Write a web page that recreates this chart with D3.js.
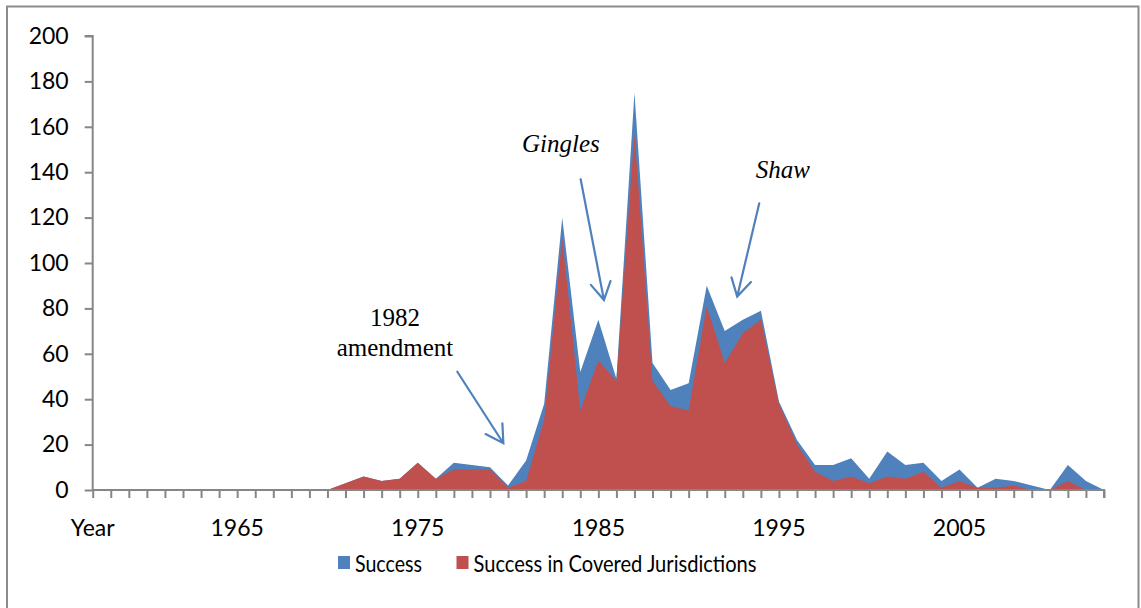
<!DOCTYPE html>
<html>
<head>
<meta charset="utf-8">
<script src="https://cdn.jsdelivr.net/npm/d3@7"></script>
<style>
  body { margin: 0; background: #fff; }
  svg { display: block; }
</style>
</head>
<body>
<svg width="1141" height="608"></svg>
<script>
(function() {
  // years on the category axis
  let years = [1957, 1958, 1959, 1960, 1961, 1962, 1963, 1964, 1965, 1966,
    1967, 1968, 1969, 1970, 1971, 1972, 1973, 1974, 1975, 1976,
    1977, 1978, 1979, 1980, 1981, 1982, 1983, 1984, 1985, 1986,
    1987, 1988, 1989, 1990, 1991, 1992, 1993, 1994, 1995, 1996,
    1997, 1998, 1999, 2000, 2001, 2002, 2003, 2004, 2005, 2006,
    2007, 2008, 2009, 2010, 2011, 2012, 2013];

  let success = [0, 0, 0, 0, 0, 0, 0, 0, 0, 0,
    0, 0, 0, 0, 3, 6, 4, 5, 12, 5,
    12, 11, 10, 2, 13, 38, 120, 52, 75, 49,
    175, 56, 44, 47, 90, 70, 75, 79, 39, 22,
    11, 11, 14, 5, 17, 11, 12, 4, 9, 1,
    5, 4, 2, 0, 11, 4, 0];

  let covered = [0, 0, 0, 0, 0, 0, 0, 0, 0, 0,
    0, 0, 0, 0, 3, 6, 4, 5, 12, 5,
    9, 9, 9, 1, 4, 31, 111, 35, 57, 48,
    157, 48, 37, 35, 81, 56, 69, 75, 38, 20,
    8, 4, 6, 3, 6, 5, 8, 1, 4, 1,
    1, 2, 0, 0, 4, 0, 0];

  let yTicks = [0, 20, 40, 60, 80, 100, 120, 140, 160, 180, 200];
  let xLabelYears = [1957, 1965, 1975, 1985, 1995, 2005];
  let xLabelText = ['Year', '1965', '1975', '1985', '1995', '2005'];

  let seriesNames = ['Success', 'Success in Covered Jurisdictions'];
  let seriesColors = ['#4f81bd', '#c0504d'];

  // annotations: text placed in data space, arrows from -> to
  let notes = [
    { lines: ['1982', 'amendment'], year: 1973.74, value: 72.4, italic: false },
    { lines: ['Gingles'], year: 1982.93, value: 149, italic: true },
    { lines: ['Shaw'], year: 1995.22, value: 137.4, italic: true }
  ];
  let arrows = [
    { from: [1977.19, 52.1], to: [1979.74, 20.6] },
    { from: [1984.02, 136.9], to: [1985.31, 83.7] },
    { from: [1993.91, 126.3], to: [1992.69, 85.2] }
  ];

  let svg = d3.select('svg');
  let margin = { left: 92.7, right: 37, top: 36, bottom: 118 };
  let width = 1141, height = 608;

  let x = d3.scaleLinear()
    .domain([years[0], years[years.length - 1]])
    .range([margin.left, width - margin.right]);
  let y = d3.scaleLinear()
    .domain([0, 200])
    .range([height - margin.bottom, margin.top]);

  // outer frame
  svg.append('path')
    .attr('d', 'M7,620 V6.5 H1138.5 V620')
    .attr('fill', 'none')
    .attr('stroke', '#8c8c8c')
    .attr('stroke-width', 2);

  let pts = years.map(function(yr, i) {
    return { year: yr, s: success[i], c: covered[i] };
  });

  let area = function(key) {
    return d3.area()
      .x(function(d) { return x(d.year); })
      .y0(y(0))
      .y1(function(d) { return y(d[key]); });
  };

  svg.append('path')
    .datum(pts)
    .attr('d', area('s'))
    .attr('fill', seriesColors[0]);

  svg.append('path')
    .datum(pts)
    .attr('d', area('c'))
    .attr('fill', seriesColors[1]);

  // y axis
  let yAxis = svg.append('g')
    .attr('transform', 'translate(' + margin.left + ',0)')
    .call(d3.axisLeft(y).tickValues(yTicks).tickSize(8).tickPadding(16));
  yAxis.select('.domain').attr('d', 'M-8,' + y(200) + 'H0V' + y(0));

  // x axis
  let xAxis = svg.append('g')
    .attr('transform', 'translate(0,' + y(0) + ')')
    .call(d3.axisBottom(x).tickValues(years).tickSize(8).tickFormat(''));
  xAxis.select('.domain').attr('d', 'M' + x(years[0]) + ',0H' + x(years[years.length - 1]) + 'V8');

  svg.selectAll('.domain, .tick line')
    .attr('stroke', '#868686')
    .attr('stroke-width', 2);

  yAxis.selectAll('text')
    .attr('font-family', 'Lato, sans-serif')
    .attr('font-size', 23)
    .attr('fill', '#000');

  svg.append('g')
    .selectAll('text')
    .data(xLabelYears)
    .enter().append('text')
    .attr('x', function(d) { return x(d); })
    .attr('y', y(0) + 46)
    .attr('text-anchor', 'middle')
    .attr('font-family', 'Lato, sans-serif')
    .attr('font-size', 23)
    .text(function(d, i) { return xLabelText[i]; });

  // legend
  let legend = svg.append('g').attr('transform', 'translate(338,556)');
  let lx = [0, 118.5];
  let lw = [67, 283];
  seriesNames.forEach(function(name, i) {
    legend.append('rect')
      .attr('x', lx[i])
      .attr('y', 0)
      .attr('width', 12)
      .attr('height', 13)
      .attr('fill', seriesColors[i]);
    legend.append('text')
      .attr('x', lx[i] + 17)
      .attr('y', 16)
      .attr('font-family', 'Lato, sans-serif')
      .attr('font-size', 23)
      .attr('textLength', lw[i])
      .attr('lengthAdjust', 'spacingAndGlyphs')
      .text(name);
  });

  // annotations
  notes.forEach(function(n) {
    n.lines.forEach(function(line, j) {
      svg.append('text')
        .attr('x', x(n.year))
        .attr('y', y(n.value) + j * 30.5)
        .attr('text-anchor', 'middle')
        .attr('font-family', '"Liberation Serif", "Times New Roman", serif')
        .attr('font-style', n.italic ? 'italic' : 'normal')
        .attr('font-size', 25)
        .text(line);
    });
  });

  arrows.forEach(function(a) {
    let x1 = x(a.from[0]), y1 = y(a.from[1]);
    let x2 = x(a.to[0]), y2 = y(a.to[1]);
    let ang = Math.atan2(y1 - y2, x1 - x2);
    let len = 20, spread = Math.PI / 6;
    let h1 = [x2 + len * Math.cos(ang - spread), y2 + len * Math.sin(ang - spread)];
    let h2 = [x2 + len * Math.cos(ang + spread), y2 + len * Math.sin(ang + spread)];
    svg.append('path')
      .attr('d', 'M' + x1 + ',' + y1 + 'L' + x2 + ',' + y2 +
        'M' + h1[0] + ',' + h1[1] + 'L' + x2 + ',' + y2 + 'L' + h2[0] + ',' + h2[1])
      .attr('fill', 'none')
      .attr('stroke', '#4f81bd')
      .attr('stroke-width', 2.2)
      .attr('stroke-linecap', 'round');
  });
})();
</script>
</body>
</html>
